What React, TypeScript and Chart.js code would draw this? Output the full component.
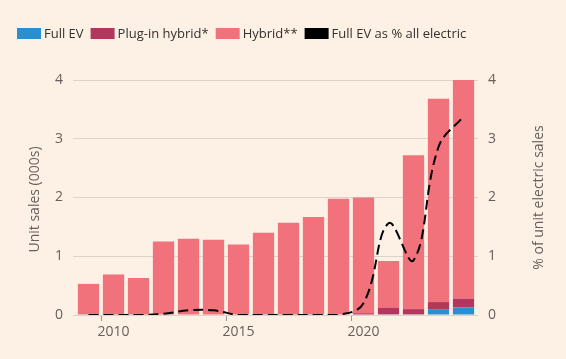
import React, { useEffect, useRef } from "react";
import { Chart, registerables } from "chart.js";

Chart.register(...registerables);

const years = ["2009","2010","2011","2012","2013","2014","2015","2016","2017","2018","2019","2020","2021","2022","2023","2024"];
const fullEV = [0, 0, 0, 0, 0, 0, 0, 0, 0, 0, 0, 0, 0.01, 0.01, 0.1, 0.13];
const plugIn = [0, 0, 0, 0, 0, 0, 0, 0, 0, 0, 0, 0.03, 0.11, 0.09, 0.12, 0.15];
const hybrid = [0.53, 0.69, 0.63, 1.25, 1.3, 1.28, 1.2, 1.4, 1.57, 1.67, 1.98, 1.97, 0.8, 2.62, 3.46, 3.72];
const evShare = [0, 0, 0, 0.02, 0.08, 0.08, 0, 0, 0, 0, 0, 0.2, 1.56, 0.93, 2.86, 3.38];
const shownYears = ["2010", "2015", "2020"];
const yTicks = [0, 1, 2, 3, 4];
const leftTitle = "Unit sales (000s)";
const rightTitle = "% of unit electric sales";

const FONT = "'Open Sans', sans-serif";
const TEXT = "#66605c";

const decorPlugin = {
  id: "decor",
  afterDraw(chart: any) {
    const ctx = chart.ctx;
    const { top, bottom } = chart.chartArea;
    ctx.save();
    // legend
    ctx.font = `13px ${FONT}`;
    ctx.textBaseline = "middle";
    ctx.textAlign = "left";
    let x = 17;
    const yc = 33;
    chart.data.datasets.forEach((d: any) => {
      ctx.fillStyle = d.backgroundColor;
      ctx.fillRect(x, yc - 5, 24, 11);
      x += 27;
      ctx.fillStyle = "#33302e";
      ctx.fillText(d.label, x, yc + 1);
      x += ctx.measureText(d.label).width + 7;
    });
    // axis titles
    ctx.font = `14px ${FONT}`;
    ctx.fillStyle = TEXT;
    ctx.textAlign = "center";
    const mid = (top + bottom) / 2;
    ctx.save();
    ctx.translate(35, mid + 2);
    ctx.rotate(-Math.PI / 2);
    ctx.fillText(leftTitle, 0, 0);
    ctx.restore();
    ctx.save();
    ctx.translate(539, mid);
    ctx.rotate(-Math.PI / 2);
    ctx.fillText(rightTitle, 0, 0);
    ctx.restore();
    ctx.restore();
  },
};

export default function App() {
  const ref = useRef<HTMLCanvasElement>(null);
  useEffect(() => {
    if (!ref.current) return;
    const chart = new Chart(ref.current, {
      type: "bar",
      data: {
        labels: years,
        datasets: [
          { type: "bar", label: "Full EV", data: fullEV, backgroundColor: "#2a8fd0", stack: "s", yAxisID: "y", order: 2, barPercentage: 0.85, categoryPercentage: 1 },
          { type: "bar", label: "Plug-in hybrid*", data: plugIn, backgroundColor: "#b3365f", stack: "s", yAxisID: "y", order: 2, barPercentage: 0.85, categoryPercentage: 1 },
          { type: "bar", label: "Hybrid**", data: hybrid, backgroundColor: "#f2727c", stack: "s", yAxisID: "y", order: 2, barPercentage: 0.85, categoryPercentage: 1 },
          { type: "line", label: "Full EV as % all electric", data: evShare, borderColor: "#000000", backgroundColor: "#000000", borderWidth: 2, borderDash: [10, 5], pointRadius: 0, tension: 0.4, yAxisID: "y2", order: 1 } as any,
        ],
      },
      options: {
        animation: false,
        responsive: false,
        maintainAspectRatio: false,
        layout: { padding: { left: 0, right: 0, top: 80, bottom: 0 } },
        plugins: {
          tooltip: { enabled: false },
          legend: { display: false },
        },
        scales: {
          x: {
            stacked: true,
            offset: true,
            afterFit: (axis: any) => { axis.height = 44; },
            grid: {
              drawOnChartArea: false,
              drawTicks: true,
              tickLength: 6,
              color: (ctx: any) => (ctx.tick && shownYears.includes(years[ctx.index]) ? "#9e9791" : "rgba(0,0,0,0)"),
            },
            border: { display: false },
            ticks: {
              autoSkip: false,
              maxRotation: 0,
              padding: 3,
              font: { family: FONT, size: 14 },
              color: TEXT,
              callback: (v: any, i: number) => (shownYears.includes(years[i]) ? years[i] : ""),
            },
          },
          y: {
            stacked: true,
            min: 0,
            max: 4,
            position: "left",
            afterFit: (axis: any) => { axis.width = 76; },
            afterBuildTicks: (axis: any) => { axis.ticks = yTicks.map((v) => ({ value: v })); },
            grid: { color: "#dcd3cb", drawTicks: true, tickLength: 3, lineWidth: 1 },
            border: { display: false },
            ticks: { font: { family: FONT, size: 14 }, color: TEXT, padding: 10 },
          },
          y2: {
            min: 0,
            max: 4,
            position: "right",
            afterFit: (axis: any) => { axis.width = 90; },
            afterBuildTicks: (axis: any) => { axis.ticks = yTicks.map((v) => ({ value: v })); },
            grid: { drawOnChartArea: false, drawTicks: true, tickLength: 2, color: "#dcd3cb" },
            border: { display: false },
            ticks: { font: { family: FONT, size: 14 }, color: TEXT, padding: 10 },
          },
        },
      },
      plugins: [decorPlugin],
    });
    return () => chart.destroy();
  }, []);
  return (
    <div style={{ position: "fixed", left: 0, top: 0, width: 566, height: 359, background: "#fdf1e6" }}>
      <canvas ref={ref} width={566} height={359} style={{ display: "block" }} />
    </div>
  );
}
